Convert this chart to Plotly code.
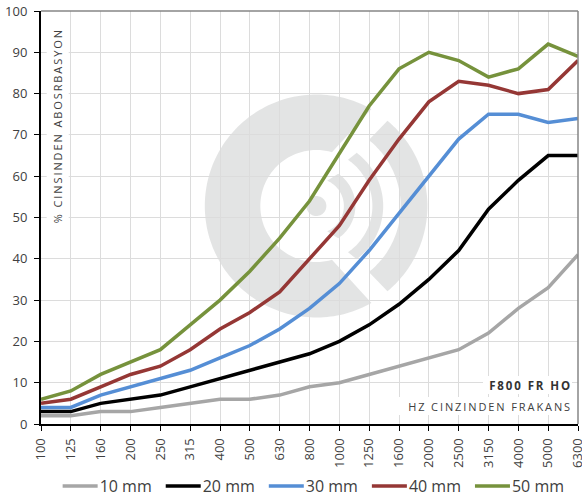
import numpy as np
import plotly.graph_objects as go

freq = ["100","125","160","200","250","315","400","500","630","800","1000","1250","1600","2000","2500","3150","4000","5000","6300"]
s10 = [2,2,3,3,4,5,6,6,7,9,10,12,14,16,18,22,28,33,41]
s20 = [3,3,5,6,7,9,11,13,15,17,20,24,29,35,42,52,59,65,65]
s30 = [4,4,7,9,11,13,16,19,23,28,34,42,51,60,69,75,75,73,74]
s40 = [5,6,9,12,14,18,23,27,32,40,48,59,69,78,83,82,80,81,88]
s50 = [6,8,12,15,18,24,30,37,45,54,65.5,77,86,90,88,84,86,92,89]
names = ["10 mm","20 mm","30 mm","40 mm","50 mm"]
colors = ["#a6a6a6","#000000","#558ed5","#953735","#76923c"]

W, H = 582, 503
L, R, T, B = 41.3, 578, 11, 424
FONT = "Open Sans"
INK = "#404040"

def px(x, y):
    return (x - L) / (R - L), (B - y) / (B - T)

def path(points):
    pts = [px(*p) for p in points]
    return "M" + "L".join(f"{a:.5f},{b:.5f}" for a, b in pts) + "Z"

CX, CY = 316.5, 206

def polar(r, deg):
    a = np.radians(deg)
    return CX + r * np.cos(a), CY - r * np.sin(a)

def arc(r0, a0, r1, a1, n=70):
    """Band between radii r0 and r1, with end angles a0 (inner) and a1 (outer)."""
    outer = [polar(r1, d) for d in np.linspace(a1, -a1, n)]
    inner = [polar(r0, d) for d in np.linspace(-a0, a0, n)]
    return outer + inner

def ring():
    outer = [polar(111.5, d) for d in np.linspace(60.4, 299.6, 140)]
    inner = [polar(56, d) for d in np.linspace(286.2, 73.8, 120)]
    return outer + inner

wm = [ring(), arc(84.3, 51.5, 111, 50.2), arc(56, 55.6, 66.8, 52.8), arc(27.5, 67, 39, 56),
      [polar(10, d) for d in np.linspace(0, 360, 60)]]

shapes = [dict(type="path", path=path(p), xref="paper", yref="paper", layer="below",
               fillcolor="rgba(105,112,112,0.19)", line=dict(width=0)) for p in wm]
shapes += [
    dict(type="line", xref="paper", yref="paper", x0=0, x1=1, y0=1, y1=1, line=dict(color="#868686", width=1.5), layer="above"),
    dict(type="line", xref="paper", yref="paper", x0=1, x1=1, y0=0, y1=1, line=dict(color="#868686", width=1.5), layer="above"),
]

fig = go.Figure()
for name, vals, col in zip(names, [s10, s20, s30, s40, s50], colors):
    fig.add_trace(go.Scatter(x=freq, y=vals, name=name, mode="lines",
                             line=dict(color=col, width=3.5)))

def note(text, x0, x1, y0, y1, size, color=INK, bold=False, angle=0, align="center"):
    cx, cy = px((x0 + x1) / 2, (y0 + y1) / 2)
    w, h = x1 - x0, y1 - y0
    if angle:
        w, h = h, w
    return dict(text=f"<b>{text}</b>" if bold else text, xref="paper", yref="paper", x=cx, y=cy,
                xanchor="center", yanchor="middle", showarrow=False, textangle=angle, align=align,
                width=w, height=h, bgcolor="white", borderpad=0, borderwidth=0,
                font=dict(family=FONT, size=size, color=color))

anns = [
    note("% CINSINDEN ABOSRBASYON", 47, 69, 26, 226, 11, angle=-90),
    note("F800 FR HO", 483, 572, 376, 394, 11.5, color="#333333", bold=True, align="right"),
    note("HZ CINZINDEN FRAKANS", 399, 572, 397, 415, 11, align="right"),
]

fig.update_layout(
    width=W, height=H, autosize=False,
    margin=dict(l=L, r=W - R, t=T, b=H - B, pad=0),
    paper_bgcolor="white", plot_bgcolor="white",
    font=dict(family=FONT, color=INK),
    shapes=shapes, annotations=anns,
    showlegend=True,
    legend=dict(orientation="h", x=0.504, xanchor="center", yref="container", y=-0.002, yanchor="bottom",
                font=dict(family=FONT, size=16, color=INK), itemwidth=36,
                traceorder="normal", bgcolor="rgba(0,0,0,0)"),
)
fig.update_xaxes(automargin=False, type="category", categoryorder="array", categoryarray=freq,
                 range=[0, 18], tickmode="array", tickvals=freq, ticktext=freq,
                 tickangle=-90, ticks="outside", ticklen=5, tickcolor="#000000", tickwidth=1,
                 tickfont=dict(family=FONT, size=13, color=INK), ticklabelstandoff=2,
                 showgrid=True, gridcolor="#dcdcdc", gridwidth=1,
                 showline=True, linecolor="#000000", linewidth=2, zeroline=False)
fig.update_yaxes(automargin=False, range=[0, 100], dtick=10, ticks="outside", ticklen=5, tickcolor="#000000", tickwidth=1,
                 tickfont=dict(family=FONT, size=13, color=INK), ticklabelstandoff=4,
                 showgrid=True, gridcolor="#dcdcdc", gridwidth=1,
                 showline=True, linecolor="#000000", linewidth=2, zeroline=False)

post = """
document.body.style.margin = '0';
document.documentElement.style.overflow = 'hidden';
document.querySelectorAll('.annotation-text').forEach(function(t){
  t.style.letterSpacing = '1.9px';
});
document.querySelectorAll('.legendlines path').forEach(function(p){
  p.setAttribute('d', 'M9,0h35');
});
"""
fig.write_html("out.html", post_script=post, config=dict(displayModeBar=False))
